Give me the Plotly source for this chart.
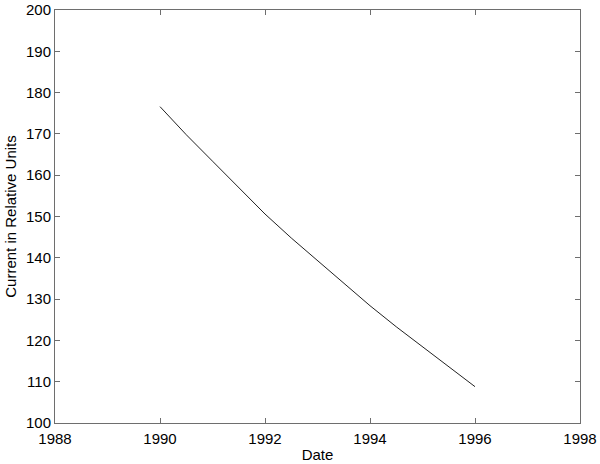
import plotly.graph_objects as go

# readings, half-year steps
years = [1990, 1990.5, 1991, 1991.5, 1992, 1992.5, 1993, 1993.5,
         1994, 1994.5, 1995, 1995.5, 1996]
current = [176.6, 169.8, 163.4, 157.0, 150.6, 144.8, 139.4, 133.8,
           128.4, 123.3, 118.5, 113.6, 108.8]

x_ticks = [1988, 1990, 1992, 1994, 1996, 1998]
y_ticks = [100, 110, 120, 130, 140, 150, 160, 170, 180, 190, 200]

fig = go.Figure()
fig.add_trace(go.Scatter(x=years, y=current, mode="lines",
                         line=dict(color="#222222", width=1), showlegend=False))

axis_style = dict(showline=True, linecolor="#6e6e6e", linewidth=1, mirror="allticks",
                  ticks="inside", ticklen=5, tickcolor="#6e6e6e", showgrid=False,
                  zeroline=False, automargin=False, tickfont=dict(size=15, color="black"))

fig.update_xaxes(range=[1988, 1998], tickvals=x_ticks, ticklabelstandoff=2,
                 title=dict(text="Date", font=dict(size=15, color="black"), standoff=3),
                 **axis_style)
fig.update_yaxes(range=[100, 200], tickvals=y_ticks,
                 title=dict(text="Current in Relative Units", font=dict(size=15, color="black"), standoff=5),
                 **axis_style)

fig.update_layout(width=600, height=464, margin=dict(l=55, r=20, t=10, b=41),
                  plot_bgcolor="white", paper_bgcolor="white",
                  font=dict(family="Liberation Sans, Arial, sans-serif", color="black"))

# page body has a default 8px margin, drop it so the figure fills the window
fig.write_html("out.html", config={"displayModeBar": False},
               post_script="document.body.style.margin='0';")
